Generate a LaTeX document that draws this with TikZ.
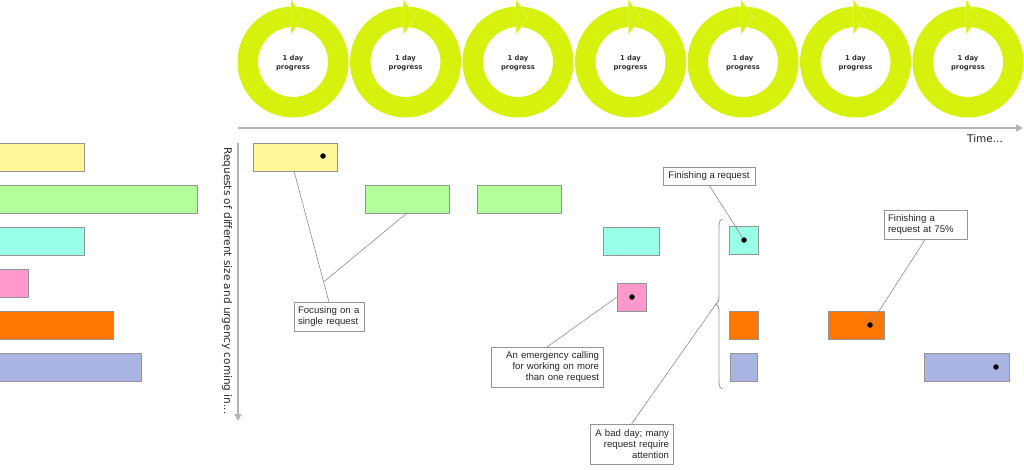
\documentclass[tikz,border=0pt]{standalone}
\usepackage{fontspec}
\setmainfont{Liberation Sans}
\newfontfamily\dvs{DejaVu Sans}
\usetikzlibrary{calc,arrows.meta,decorations.pathreplacing}
\definecolor{ringc}{RGB}{214,242,12}
\definecolor{yelc}{RGB}{255,247,153}
\definecolor{grnc}{RGB}{179,255,153}
\definecolor{cyac}{RGB}{153,255,230}
\definecolor{pnkc}{RGB}{255,153,204}
\definecolor{orac}{RGB}{255,119,0}
\definecolor{lavc}{RGB}{170,180,226}
\definecolor{edgec}{RGB}{150,150,150}
\definecolor{linec}{RGB}{140,140,140}
\definecolor{axisc}{RGB}{180,180,180}
\tikzset{
  bar/.style={draw=edgec, line width=0.8pt, inner sep=0pt, outer sep=0pt},
  dotm/.style={circle, fill=black, minimum size=5.5pt, inner sep=0pt},
  callout/.style={draw=edgec, fill=white, line width=0.8pt, inner xsep=4pt, inner ysep=2pt, outer sep=0pt,
     font=\fontsize{9.6}{11}\selectfont, text=black!85},
  lead/.style={draw=linec, line width=0.6pt},
  axisline/.style={draw=axisc, line width=1.6pt, -{Triangle[length=7pt,width=7pt]}},
  daylabel/.style={font=\dvs\bfseries\fontsize{6.8}{9}\selectfont, text=black!80, align=center},
}
\begin{document}
\begin{tikzpicture}[x=1pt,y=-1pt]
\useasboundingbox (0,0) rectangle (1024,469);
% progress rings
\foreach \i in {0,...,6}{
  \pgfmathsetmacro{\cx}{293+112.5*\i}
  \fill[ringc, even odd rule] (\cx,62) circle (55.5pt) (\cx,62) circle (35pt);
  \filldraw[fill=ringc, draw=ringc!70!white, line width=0.5pt] (\cx-2,0) -- (\cx+10,17) -- (\cx-2,34) -- cycle;
  \node[daylabel] (day\i) at (\cx,63) {1 day\\progress};
}
% axes
\coordinate (hx0) at (238,128);
\coordinate (hx1) at (1023,128);
\draw[axisline] (hx0) -- (hx1);
\node[font=\dvs\fontsize{10.5}{12}\selectfont, text=black!85] (timelbl) at (985,139) {Time...};
\coordinate (vy0) at (238,143);
\coordinate (vy1) at (238,421);
\draw[axisline] (vy0) -- (vy1);
\node[font=\dvs\fontsize{10.5}{12}\selectfont, text=black!85, rotate=-90] (reqlbl) at (227,281) {Requests of different size and urgency coming in...};
% incoming request bars
\node[bar, fill=yelc, minimum width=85pt, minimum height=28pt] (ly) at (41.5,157) {};
\node[bar, fill=grnc, minimum width=198pt, minimum height=28pt] (lg) at (98,199) {};
\node[bar, fill=cyac, minimum width=85pt, minimum height=28pt] (lc) at (41.5,241) {};
\node[bar, fill=pnkc, minimum width=29pt, minimum height=28pt] (lp) at (13.5,283) {};
\node[bar, fill=orac, minimum width=114pt, minimum height=28pt] (lo) at (56,325) {};
\node[bar, fill=lavc, minimum width=142pt, minimum height=28pt] (ll) at (70,367) {};
% work over time
\node[bar, fill=yelc, minimum width=84pt, minimum height=28pt] (ry) at (295,157) {};
\node[dotm] (dy) at (323,156) {};
\node[bar, fill=grnc, minimum width=84pt, minimum height=28pt] (rg1) at (407,199) {};
\node[bar, fill=grnc, minimum width=84pt, minimum height=28pt] (rg2) at (519,199) {};
\node[bar, fill=cyac, minimum width=56pt, minimum height=28pt] (rc1) at (631,241) {};
\node[bar, fill=pnkc, minimum width=29pt, minimum height=28pt] (rp) at (631.5,297) {};
\node[dotm] (dp) at (632,297) {};
\node[bar, fill=cyac, minimum width=29pt, minimum height=28pt] (rc2) at (743.5,240.5) {};
\node[dotm] (dc) at (744,240) {};
\node[bar, fill=orac, minimum width=29pt, minimum height=28pt] (ro1) at (743.5,325) {};
\node[bar, fill=lavc, minimum width=27pt, minimum height=28pt] (rl1) at (743.5,367) {};
\node[bar, fill=orac, minimum width=56pt, minimum height=28pt] (ro2) at (856,325) {};
\node[dotm] (do) at (870,325) {};
\node[bar, fill=lavc, minimum width=85pt, minimum height=28pt] (rl2) at (966.5,367) {};
\node[dotm] (dl) at (996,367) {};
% brace
\draw[draw=edgec, line width=0.8pt, decorate, decoration={brace, amplitude=6pt}] (722,389) -- (722,219);
\coordinate (bm) at (716,304);
% callouts
\node[callout, text width=62pt, minimum height=29pt, align=left] (focus) at (329,316.5) {Focusing on a\\single request};
\node[callout, text width=104pt, minimum height=40pt, align=right] (emerg) at (547,367) {An emergency calling\\for working on more\\than one request};
\node[callout, text width=75pt, minimum height=40pt, align=right] (bad) at (631.5,444) {A bad day; many\\request require\\attention};
\node[callout, minimum width=92pt, minimum height=18pt] (fin) at (709,176) {Finishing a request};
\node[callout, text width=75pt, minimum height=29pt, align=left] (f75) at (925.5,224.5) {Finishing a\\request at 75\%};
% leader lines
\coordinate (yb) at ($(ry.south west)+(41,0)$);
\coordinate (fb) at ($(focus.north)!0.153!(yb)$);
\draw[lead] (focus.north) -- (yb);
\draw[lead] (fb) -- (rg1.south);
\draw[lead] (emerg.north) -- (rp.west);
\draw[lead] (bad.north) -- (bm);
\draw[lead] (fin.south) -- (dc);
\draw[lead] (f75.south) -- (do);
\end{tikzpicture}
\end{document}
